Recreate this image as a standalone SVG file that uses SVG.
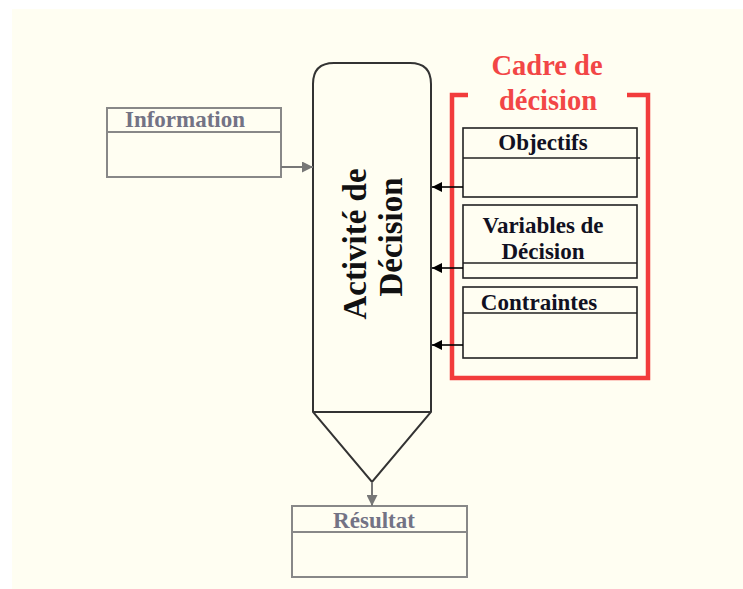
<svg xmlns="http://www.w3.org/2000/svg" width="743" height="589" viewBox="0 0 743 589">
<style>
.t{font-family:"Liberation Serif","Times New Roman","DejaVu Serif",serif;font-weight:bold;}
.lbl{font-size:23px;fill:#111122;text-anchor:middle;}
.glbl{font-size:23px;fill:#737385;text-anchor:middle;}
.gbox{fill:none;stroke:#888;stroke-width:2;}
.bbox{fill:none;stroke:#222;stroke-width:1.6;}
.red{fill:none;stroke:#f23c3c;stroke-width:4.5;}
.big{font-size:33px;fill:#111;text-anchor:middle;}
.rt{font-size:28.5px;fill:#f24646;text-anchor:middle;}
</style>
<defs>
<marker id="ag" viewBox="0 0 10 10" refX="10" refY="5" markerWidth="12" markerHeight="11" markerUnits="userSpaceOnUse" orient="auto">
<path d="M0,0 L10,5 L0,10 Z" fill="#777"/>
</marker>
<marker id="ab" viewBox="0 0 10 10" refX="10" refY="5" markerWidth="11" markerHeight="10" markerUnits="userSpaceOnUse" orient="auto">
<path d="M0,0 L10,5 L0,10 Z" fill="#000"/>
</marker>
</defs>
<rect x="12" y="9" width="731" height="580" fill="#fffef2"/>

<g id="activite">
<path d="M313,84 Q313,63 334,63 L410,63 Q431,63 431,84 L431,412 L372,482 L313,412 Z" fill="#fffef2" stroke="#333" stroke-width="2"/>
<line x1="313" y1="412" x2="431" y2="412" stroke="#333" stroke-width="2"/>
<text class="t big" transform="translate(366,244) rotate(-90)">Activité de</text>
<text class="t big" transform="translate(402,237) rotate(-90)">Décision</text>
</g>

<g id="information">
<rect class="gbox" x="107" y="108" width="174" height="69"/>
<line class="gbox" x1="107" y1="132" x2="281" y2="132"/>
<text class="t glbl" x="185" y="127">Information</text>
</g>

<g id="resultat">
<rect class="gbox" x="292" y="506" width="175" height="71"/>
<line class="gbox" x1="292" y1="532" x2="467" y2="532"/>
<text class="t glbl" x="374" y="528">Résultat</text>
</g>

<g id="cadre">
<path class="red" d="M468,95 L452,95 L452,378 L648,378 L648,95 L627,95"/>
<text class="t rt" x="547" y="75">Cadre de</text>
<text class="t rt" x="548" y="110">décision</text>
</g>

<g id="objectifs">
<rect class="bbox" x="463" y="128" width="174" height="69"/>
<line class="bbox" x1="463" y1="158" x2="640" y2="158"/>
<text class="t lbl" x="543" y="150">Objectifs</text>
</g>

<g id="variables">
<rect class="bbox" x="463" y="205" width="174" height="73"/>
<line class="bbox" x1="463" y1="263" x2="637" y2="263"/>
<text class="t lbl" x="543" y="233">Variables de</text>
<text class="t lbl" x="543" y="259">Décision</text>
</g>

<g id="contraintes">
<rect class="bbox" x="463" y="287" width="174" height="71"/>
<line class="bbox" x1="463" y1="313" x2="637" y2="313"/>
<text class="t lbl" x="539" y="310">Contraintes</text>
</g>

<g id="connectors">
<line x1="281" y1="167" x2="313" y2="167" stroke="#777" stroke-width="2" marker-end="url(#ag)"/>
<line x1="372" y1="482" x2="372" y2="506" stroke="#777" stroke-width="2" marker-end="url(#ag)"/>
<line x1="463" y1="187" x2="432" y2="187" stroke="#000" stroke-width="1.6" marker-end="url(#ab)"/>
<line x1="463" y1="268" x2="432" y2="268" stroke="#000" stroke-width="1.6" marker-end="url(#ab)"/>
<line x1="463" y1="345" x2="432" y2="345" stroke="#000" stroke-width="1.6" marker-end="url(#ab)"/>
</g>
</svg>
